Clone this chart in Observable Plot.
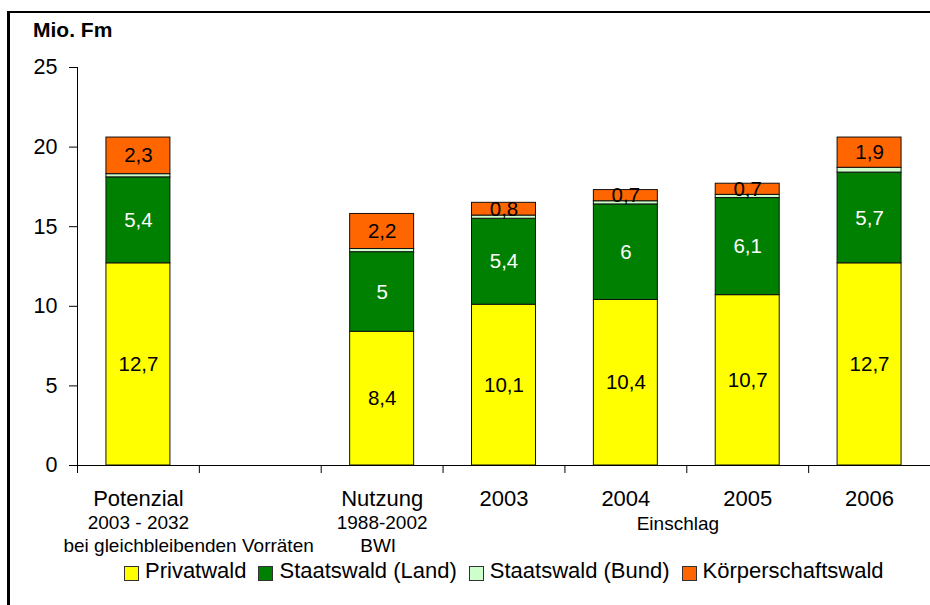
<!DOCTYPE html>
<html>
<head>
<meta charset="utf-8">
<script src="https://cdn.jsdelivr.net/npm/d3@7"></script>
<script src="https://cdn.jsdelivr.net/npm/@observablehq/plot@0.6"></script>
<style>
  html, body { margin: 0; padding: 0; background: #fff; overflow: hidden; }
  #wrap { position: relative; width: 930px; height: 605px; overflow: hidden; font-family: "Liberation Sans", Arial, sans-serif; }
  #frame { position: absolute; left: 7px; top: 11px; width: 1000px; height: 1000px; border-left: 3px solid #000; border-top: 2.5px solid #000; box-sizing: border-box; pointer-events: none; }
  #chart { position: absolute; left: 0; top: 0; }
  #unit { position: absolute; left: 33px; top: 19px; font-size: 21px; line-height: 21px; font-weight: bold; color: #000; }
  #legend { position: absolute; left: 124px; top: 560px; display: flex; align-items: center; font-size: 22px; line-height: 22px; color: #000; white-space: nowrap; }
  #legend .item { display: flex; align-items: center; margin-right: 12px; }
  #legend .box { width: 13px; height: 13px; border: 1px solid #333; margin-right: 6px; position: relative; top: 2px; }
</style>
</head>
<body>
<div id="wrap">
  <div id="chart"></div>
  <div id="frame"></div>
  <div id="unit">Mio. Fm</div>
  <div id="legend"></div>
</div>
<script>
// Categories (slot 2 is an empty spacer)
const categories = ["Potenzial", " ", "Nutzung", "2003", "2004", "2005", "2006"];
const labelLine1 = ["Potenzial", "", "Nutzung", "2003", "2004", "2005", "2006"];
const labelLine2 = ["2003 - 2032", "", "1988-2002", "", "", "", ""];
const labelLine3 = ["bei gleichbleibenden Vorräten", "", "BWI", "", "", "", ""];
const groupLabel = "Einschlag";

// Series
const seriesKeys = ["Privat", "Land", "Bund", "Koerperschaft"];
const seriesNames = ["Privatwald", "Staatswald (Land)", "Staatswald (Bund)", "Körperschaftswald"];
const seriesColors = ["#FFFF00", "#008000", "#CCFFCC", "#FF6600"];

const privatwald    = [12.7, null, 8.4, 10.1, 10.4, 10.7, 12.7];
const staatsLand    = [5.4,  null, 5.0, 5.4,  6.0,  6.1,  5.7];
const staatsBund    = [0.2,  null, 0.2, 0.2,  0.2,  0.2,  0.3];
const koerperschaft = [2.3,  null, 2.2, 0.8,  0.7,  0.7,  1.9];

const yTicks = [0, 5, 10, 15, 20, 25];

const seriesValues = [privatwald, staatsLand, staatsBund, koerperschaft];
const rows = [];
seriesKeys.forEach((s, si) => {
  categories.forEach((c, ci) => {
    const v = seriesValues[si][ci];
    if (v != null) rows.push({category: c, series: s, value: v});
  });
});
const labelRows = categories.map((c, i) => ({category: c, l1: labelLine1[i], l2: labelLine2[i], l3: labelLine3[i]}));
const fmt = v => String(v).replace(".", ",");

const W = 930, H = 560, ML = 77, MR = 0, MT = 67, MB = 95;
const halfStep = (W - ML - MR) / categories.length / 2;
const font = "'Liberation Sans', Arial, sans-serif";

const chart = Plot.plot({
  width: W, height: H,
  marginLeft: ML, marginRight: MR, marginTop: MT, marginBottom: MB,
  style: {fontFamily: font, background: "none", overflow: "visible", color: "#000"},
  x: {domain: categories, paddingInner: 0.475, paddingOuter: 0.2375, round: false, axis: null},
  y: {domain: [0, 25], axis: null},
  color: {domain: seriesKeys, range: seriesColors},
  marks: [
    Plot.barY(rows, {x: "category", y: "value", fill: "series", stroke: "#111", strokeWidth: 1}),
    Plot.text(rows, Plot.stackY({x: "category", y: "value",
      text: d => d.series === "Land" ? fmt(d.value) : null, fill: "white", fontSize: 20.5})),
    Plot.text(rows, Plot.stackY({x: "category", y: "value",
      text: d => (d.series === "Privat" || d.series === "Koerperschaft") ? fmt(d.value) : null, fill: "black", fontSize: 20.5})),
    // axes lines
    Plot.ruleY([0], {stroke: "#000", strokeWidth: 1}),
    Plot.ruleX([categories[0]], {dx: -halfStep, y1: 0, y2: 25, stroke: "#000", strokeWidth: 1}),
    Plot.ruleX(categories, {dx: -halfStep, y1: 0, y2: 0, insetBottom: -8, stroke: "#000", strokeWidth: 1}),
    Plot.axisY({ticks: yTicks, tickSize: 8, tickPadding: 12, fontSize: 21.5, label: null, stroke: "#000"}),
    // category labels
    Plot.text(labelRows, {x: "category", y: 0, text: "l1", dy: 33, fontSize: 22, fill: "#000"}),
    Plot.text(labelRows, {x: "category", y: 0, text: "l2", dy: 57, fontSize: 19, fill: "#000"}),
    // first category's long third line is kept inside the plot area (left-aligned near the axis)
    Plot.text(labelRows.slice(0, 1), {x: "category", y: 0, text: "l3", dx: -75, dy: 80, textAnchor: "start", fontSize: 19, fill: "#000"}),
    Plot.text(labelRows.slice(1), {x: "category", y: 0, text: "l3", dx: -4, dy: 80, fontSize: 19, fill: "#000"}),
    Plot.text([{category: "2004", t: groupLabel}], {x: "category", y: 0, text: "t", dx: 52, dy: 58, fontSize: 19, fill: "#000"})
  ]
});
document.getElementById("chart").appendChild(chart);

// Legend
const legend = document.getElementById("legend");
seriesNames.forEach((name, i) => {
  const item = document.createElement("div");
  item.className = "item";
  const box = document.createElement("div");
  box.className = "box";
  box.style.background = seriesColors[i];
  const label = document.createElement("span");
  label.textContent = name;
  item.appendChild(box);
  item.appendChild(label);
  legend.appendChild(item);
});
</script>
</body>
</html>
